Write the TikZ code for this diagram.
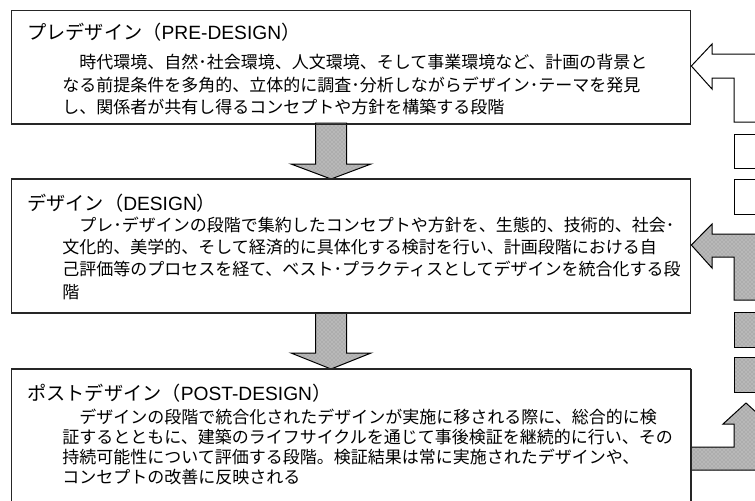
\documentclass[tikz,border=0pt]{standalone}
\usepackage{fontspec}
\setmainfont{Noto Sans CJK JP}
\newfontfamily\latinfont{Liberation Sans}
\usetikzlibrary{patterns}
\begin{document}
\begin{tikzpicture}[x=0.75pt,y=-0.75pt,
  stage/.style={draw=black!85,line width=1pt,fill=white,inner sep=0pt,anchor=north west,minimum width=509.25pt},
  ttl/.style={anchor=base west,inner sep=0pt,font=\fontsize{14.4}{16}\selectfont},
  bodytext/.style={anchor=base west,inner sep=0pt,font=\fontsize{12.75}{15}\selectfont},
  whiteshape/.style={draw=black,line width=0.75pt,fill=white,line join=miter},
  greyshape/.style={draw=black,line width=0.75pt,line join=miter,preaction={fill=black!28},pattern=crosshatch dots,pattern color=black!45}
]
\path[use as bounding box] (0,0) rectangle (755,500);
\clip (0,0) rectangle (755,500);
\fill[white] (0,0) rectangle (755,500);

% stage boxes
\node[stage,minimum height=84.75pt] (b1) at (11,10) {};
\node[stage,minimum height=99.75pt] (b2) at (11,179) {};
\node[stage,minimum height=105.75pt] (b3) at (11,369) {};

% down block arrows
\path[greyshape] (315.5,123) -- (315.5,164) -- (291,164) -- (331,179) -- (371,164) -- (346.5,164) -- (346.5,123) -- cycle;
\path[greyshape] (315.5,313) -- (315.5,353) -- (291,353) -- (331,369) -- (371,353) -- (346.5,353) -- (346.5,313) -- cycle;
\draw[draw=black!85,line width=1pt] (b1.south west) -- (b1.south east);
\draw[draw=black!85,line width=1pt] (b2.north west) -- (b2.north east);
\draw[draw=black!85,line width=1pt] (b2.south west) -- (b2.south east);
\draw[draw=black!85,line width=1pt] (b3.north west) -- (b3.north east);

% box 1 text
\node[ttl] (t1) at (27,39) {プレデザイン（{\latinfont PRE-DESIGN}）};
\node[bodytext] (p1a) at (62,68.5) {　時代環境、自然･社会環境、人文環境、そして事業環境など、計画の背景と};
\node[bodytext] (p1b) at (62,91) {なる前提条件を多角的、立体的に調査･分析しながらデザイン･テーマを発見};
\node[bodytext] (p1c) at (62,113.5) {し、関係者が共有し得るコンセプトや方針を構築する段階};

% box 2 text
\node[ttl] (t2) at (27,210) {デザイン（{\latinfont DESIGN}）};
\node[bodytext] (p2a) at (62,231.5) {　プレ･デザインの段階で集約したコンセプトや方針を、生態的、技術的、社会･};
\node[bodytext] (p2b) at (62,253) {文化的、美学的、そして経済的に具体化する検討を行い、計画段階における自};
\node[bodytext] (p2c) at (62,275) {己評価等のプロセスを経て、ベスト･プラクティスとしてデザインを統合化する段};
\node[bodytext] (p2d) at (62,298) {階};

% box 3 text
\node[ttl] (t3) at (27,400) {ポストデザイン（{\latinfont POST-DESIGN}）};
\node[bodytext] (p3a) at (62,423) {　デザインの段階で統合化されたデザインが実施に移される際に、総合的に検};
\node[bodytext] (p3b) at (62,443) {証するとともに、建築のライフサイクルを通じて事後検証を継続的に行い、その};
\node[bodytext] (p3c) at (62,463) {持続可能性について評価する段階。検証結果は常に実施されたデザインや、};
\node[bodytext] (p3d) at (62,483) {コンセプトの改善に反映される};

% right side feedback
\path[whiteshape] (b1.east |- 0,66) -- (712,44) -- (712,54) -- (760,54) -- (760,122) -- (734,122) -- (734,78) -- (712,78) -- (712,89) -- cycle;
\path[whiteshape] (734,134) rectangle (760,168);
\path[whiteshape] (734,179) rectangle (760,214);
\path[greyshape] (b2.east |- 0,245) -- (712,224) -- (712,234) -- (760,234) -- (760,300) -- (734,300) -- (734,257) -- (712,257) -- (712,268) -- cycle;
\path[greyshape] (734,312) rectangle (760,347);
\path[greyshape] (734,357) rectangle (760,392);
\path[greyshape] (746,403) -- (769,424) -- (758,424) -- (758,470) -- (b3.east |- 0,470) -- (b3.east |- 0,447) -- (734,447) -- (734,424) -- (723,424) -- cycle;
\draw[draw=black!85,line width=1pt] (b3.north east) -- (b3.south east);
\end{tikzpicture}
\end{document}
